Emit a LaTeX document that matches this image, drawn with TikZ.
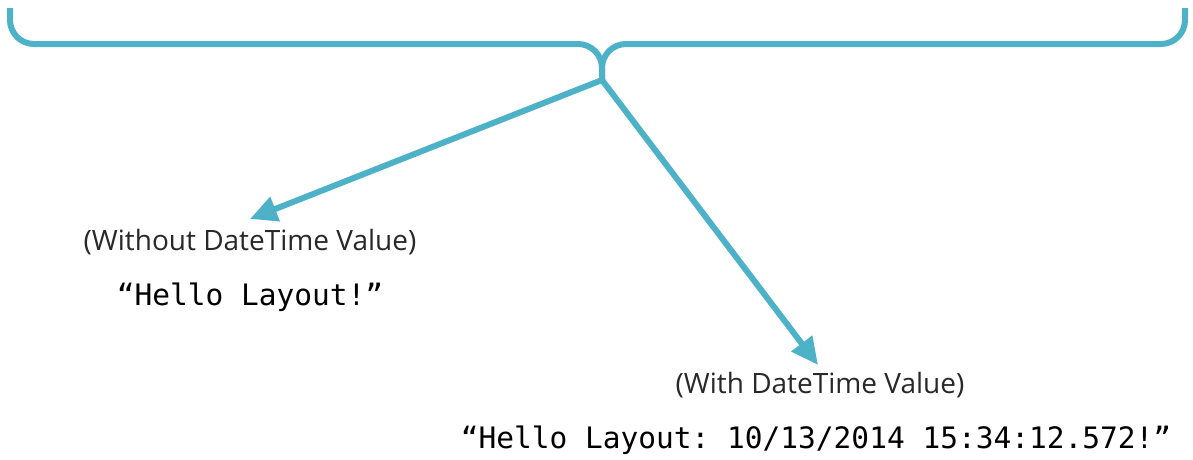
\documentclass[tikz,border=0pt]{standalone}
\usepackage{fontspec}
\setmainfont{Open Sans}
\setmonofont{DejaVu Sans Mono}
\usetikzlibrary{arrows.meta}
\definecolor{braceblue}{RGB}{77,178,200}
\definecolor{labelgray}{RGB}{40,40,40}

\begin{document}
\begin{tikzpicture}[x=1pt,y=1pt]
	\tikzstyle{every node}+=[inner sep=0pt]
	\tikzstyle{bracket}=[draw=braceblue, line width=6pt, rounded corners=24pt]
	\tikzstyle{pointer}=[draw=braceblue, line width=6pt, -{Triangle[length=27pt,width=25pt]}]
	\tikzstyle{caption}=[font=\fontsize{28}{33}\selectfont, text=labelgray]
	\tikzstyle{output}=[font=\ttfamily\fontsize{29.5}{34}\selectfont]
	\useasboundingbox (0,0) rectangle (1193,-459);
	% brace
	\coordinate (cusp) at (602,-80);
	\draw [bracket] (10,-8) |- (602,-44) -- (cusp);
	\draw [bracket] (1185,-8) |- (602,-44) -- (cusp);
	% without the date
	\node [caption] (without) at (250,-242) {(Without DateTime Value)};
	\node [output] (plain) at (250,-297) {“Hello Layout!”};
	% with the date
	\node [caption] (with) at (820,-385) {(With DateTime Value)};
	\node [output] (dated) at (816,-440) {“Hello Layout: 10/13/2014 15:34:12.572!”};
	% arrows
	\draw [pointer] (cusp) -- ([yshift=10pt]without.north);
	\draw [pointer] (cusp) -- ([xshift=-2pt,yshift=7pt]with.north);
\end{tikzpicture}
\end{document}
